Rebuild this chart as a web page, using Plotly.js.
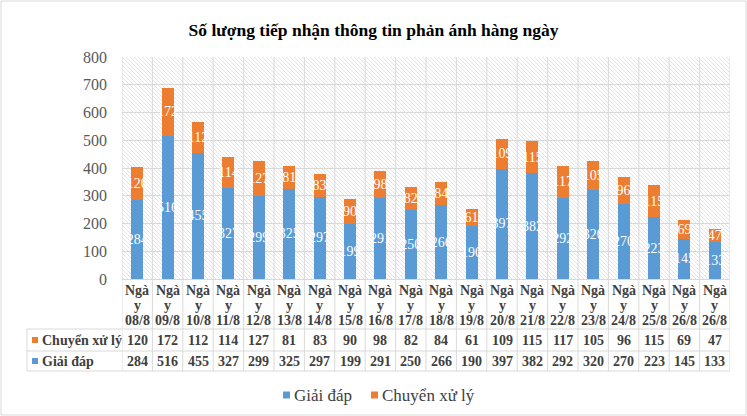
<!DOCTYPE html>
<html>
<head>
<meta charset="utf-8">
<script src="https://cdn.plot.ly/plotly-3.0.1.min.js"></script>
<style>
html,body{margin:0;padding:0;background:#fff;}
#chart{width:747px;height:416px;}
</style>
</head>
<body>
<div id="chart"></div>
<script>
// ---- Data ----
const dates = ['08/8','09/8','10/8','11/8','12/8','13/8','14/8','15/8','16/8','17/8','18/8','19/8','20/8','21/8','22/8','23/8','24/8','25/8','26/8','26/8'];
const categories = dates.map(d => 'Ngày ' + d);
const giaiDap = [284,516,455,327,299,325,297,199,291,250,266,190,397,382,292,320,270,223,145,133];
const chuyenXuLy = [120,172,112,114,127,81,83,90,98,82,84,61,109,115,117,105,96,115,69,47];
const seriesNames = ['Giải đáp','Chuyển xử lý'];
const chartTitle = 'Số lượng tiếp nhận thông tin phản ánh hàng ngày';
const yTicks = [0,100,200,300,400,500,600,700,800];

// ---- Layout helpers ----
const W = 747, H = 416;
const mL = 122, mR = 17, mT = 57, mB = 137;
const pw = W - mL - mR, ph = H - mT - mB;
const px = p => (p - mL) / pw;
const py = p => (mT + ph - p) / ph;

const blue = '#5B9BD5', orange = '#ED7D31';
const serif = 'Liberation Serif, Times New Roman, serif';
const gridC = '#D9D9D9';
const idx = categories.map((_, i) => i);

const labelFont = {family:serif, size:14, color:'#ffffff'};
const traces = [
  {type:'bar', name:seriesNames[0], x:idx, y:giaiDap, marker:{color:blue},
   text:giaiDap.map(String), textposition:'inside', insidetextanchor:'middle', textangle:0,
   constraintext:'none', textfont:labelFont, hoverinfo:'skip'},
  {type:'bar', name:seriesNames[1], x:idx, y:chuyenXuLy, marker:{color:orange},
   text:chuyenXuLy.map(String), textposition:'inside', insidetextanchor:'middle', textangle:0,
   constraintext:'none', textfont:labelFont, hoverinfo:'skip'}
];

const shapes = [];
const annotations = [];

// hatch background pattern (diagonal "\" lines) as one path in paper coords
const step = 4;
let hatch = '';
for (let c = -pw; c < ph; c += step) {
  const x0 = Math.max(0, -c), y0 = x0 + c;
  const x1 = Math.min(pw, ph - c), y1 = x1 + c;
  if (x1 <= x0) continue;
  hatch += `M${(x0/pw).toFixed(5)},${(1 - y0/ph).toFixed(5)}L${(x1/pw).toFixed(5)},${(1 - y1/ph).toFixed(5)}`;
}
shapes.push({type:'path', xref:'paper', yref:'paper', path:hatch, line:{color:'#dcdcdc', width:0.8}, layer:'below'});

const lineStyle = {color:gridC, width:1};
const row1Top = 329, row2Top = 351, tableBot = 371, tableLeft = 27;

// vertical lines at category boundaries
for (let i = 0; i <= categories.length; i++) {
  shapes.push({type:'line', xref:'x', yref:'paper', x0:i-0.5, x1:i-0.5, y0:1, y1:py(tableBot), line:lineStyle, layer:'below'});
}
// horizontal table lines
[row1Top, row2Top, tableBot].forEach(yy => {
  shapes.push({type:'line', xref:'paper', yref:'paper', x0:px(tableLeft), x1:1, y0:py(yy), y1:py(yy), line:lineStyle});
});
shapes.push({type:'line', xref:'paper', yref:'paper', x0:px(tableLeft), x1:px(tableLeft), y0:py(row1Top), y1:py(tableBot), line:lineStyle});
// outer chart border
shapes.push({type:'rect', xref:'paper', yref:'paper', x0:px(1), x1:px(746), y0:py(1), y1:py(415), line:{color:gridC, width:1}});

// header labels (wrapped category names)
const hdrFont = {family:serif, size:14, color:'#404040', weight:'bold'};
categories.forEach((c, i) => {
  const word = c.split(' ')[0];
  const parts = [word.slice(0, 3), word.slice(3), c.split(' ')[1]];
  parts.forEach((t, k) => {
    annotations.push({xref:'x', yref:'paper', x:i, y:py(290 + 15*k), text:t, showarrow:false,
      xanchor:'center', yanchor:'middle', font:hdrFont});
  });
});
// table rows (Chuyển xử lý first, then Giải đáp)
const rows = [
  {name:seriesNames[1], vals:chuyenXuLy, color:orange, yc:(row1Top+row2Top)/2},
  {name:seriesNames[0], vals:giaiDap, color:blue, yc:(row2Top+tableBot)/2}
];
rows.forEach(r => {
  r.vals.forEach((v, i) => {
    annotations.push({xref:'x', yref:'paper', x:i, y:py(r.yc), text:String(v), showarrow:false,
      xanchor:'center', yanchor:'middle', font:hdrFont});
  });
  annotations.push({xref:'paper', yref:'paper', x:px(40), y:py(r.yc), text:r.name, showarrow:false,
    xanchor:'left', yanchor:'middle', font:hdrFont});
  shapes.push({type:'rect', xref:'paper', yref:'paper', x0:px(32), x1:px(38), y0:py(r.yc-3), y1:py(r.yc+3),
    fillcolor:r.color, line:{width:0}});
});

// custom legend (below the table)
const legendItems = [
  {name:seriesNames[0], color:blue, sx:283},
  {name:seriesNames[1], color:orange, sx:371}
];
const legY = 395;
legendItems.forEach(it => {
  shapes.push({type:'rect', xref:'paper', yref:'paper', x0:px(it.sx), x1:px(it.sx+7), y0:py(legY-3.5), y1:py(legY+3.5),
    fillcolor:it.color, line:{width:0}});
  annotations.push({xref:'paper', yref:'paper', x:px(it.sx+9), y:py(legY), text:it.name, showarrow:false,
    xanchor:'left', yanchor:'middle', font:{family:serif, size:17, color:'#404040'}});
});

const layout = {
  width:W, height:H,
  margin:{l:mL, r:mR, t:mT, b:mB, pad:0, autoexpand:false},
  paper_bgcolor:'#ffffff',
  plot_bgcolor:'#ffffff',
  barmode:'stack',
  bargap:0.61,
  title:{text:'<b>'+chartTitle+'</b>', x:0.5, xref:'container', xanchor:'center', y:1-30/H, yanchor:'middle',
    font:{family:serif, size:17.5, color:'#000000'}},
  xaxis:{range:[-0.5, categories.length-0.5], showticklabels:false, showgrid:false, zeroline:false, ticks:'', fixedrange:true},
  yaxis:{range:[0,800], tickvals:yTicks, ticktext:yTicks.map(String), showgrid:true, gridcolor:gridC, gridwidth:1,
    zeroline:true, zerolinecolor:gridC, zerolinewidth:1, ticks:'', ticklabelstandoff:14,
    tickfont:{family:serif, size:16, color:'#595959'}, fixedrange:true},
  shapes:shapes,
  annotations:annotations,
  showlegend:false
};

Plotly.newPlot('chart', traces, layout, {displayModeBar:false, staticPlot:true});
</script>
</body>
</html>
